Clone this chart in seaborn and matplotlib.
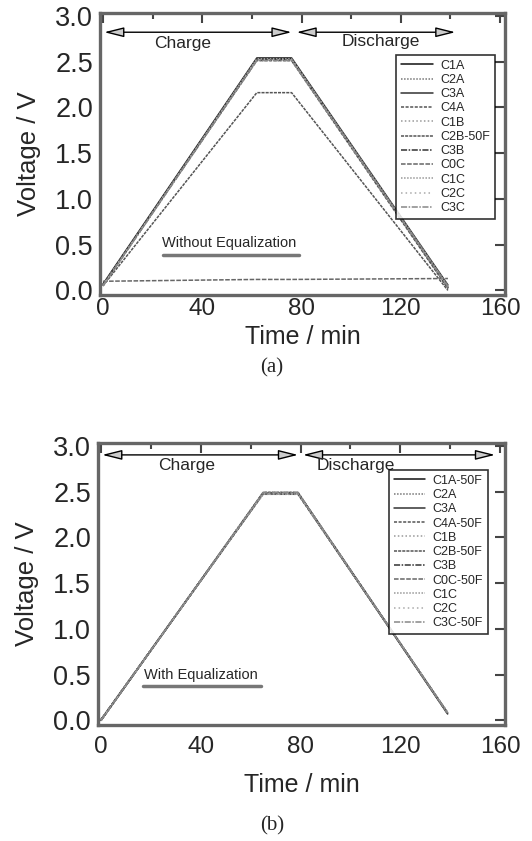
#!/usr/bin/env python3

import pandas as pd
import matplotlib.pyplot as plt
import matplotlib.ticker as mticker
import seaborn as sns

# charge / discharge breakpoints (min)
time_a = [0, 62, 76, 139]
time_b = [0, 65, 79, 139]

# (a) without equalization
cells_a = ["C1A", "C2A", "C3A", "C4A", "C1B", "C2B-50F", "C3B", "C0C", "C1C", "C2C", "C3C"]
volts_a = [
    [0.06, 2.53, 2.53, 0.03],
    [0.05, 2.52, 2.52, 0.04],
    [0.07, 2.54, 2.54, 0.06],
    [0.06, 2.51, 2.51, 0.02],
    [0.05, 2.52, 2.52, 0.05],
    [0.05, 2.16, 2.16, 0.00],
    [0.06, 2.52, 2.52, 0.04],
    [0.10, 0.12, 0.12, 0.13],
    [0.05, 2.53, 2.53, 0.05],
    [0.06, 2.52, 2.52, 0.03],
    [0.05, 2.51, 2.51, 0.04],
]

# (b) with equalization
cells_b = ["C1A-50F", "C2A", "C3A", "C4A-50F", "C1B", "C2B-50F", "C3B", "C0C-50F", "C1C", "C2C", "C3C-50F"]
volts_b = [
    [0.00, 2.48, 2.48, 0.08],
    [0.01, 2.49, 2.49, 0.08],
    [0.00, 2.48, 2.48, 0.07],
    [0.01, 2.47, 2.47, 0.08],
    [0.00, 2.48, 2.48, 0.09],
    [0.00, 2.49, 2.49, 0.08],
    [0.01, 2.48, 2.48, 0.08],
    [0.00, 2.48, 2.48, 0.07],
    [0.01, 2.47, 2.47, 0.08],
    [0.00, 2.48, 2.48, 0.09],
    [0.00, 2.49, 2.49, 0.08],
]

line_colors = ["#111111", "#777777", "#333333", "#555555", "#999999", "#555555",
               "#333333", "#666666", "#999999", "#aaaaaa", "#888888"]
line_dashes = ["", (1, 1), "", (2, 1), (1, 1.5), (2, 0.7), (4, 1, 1, 1),
               (3, 1), (1, 1), (1, 2), (4, 1, 1, 1)]


def to_long(times, cells, volts):
    rows = []
    for cell, vs in zip(cells, volts):
        for t, v in zip(times, vs):
            rows.append({"time": t, "voltage": v, "cell": cell})
    return pd.DataFrame(rows)


def style_axes(ax, xpad, labelpad):
    ax.set_xlim(-1.2, 162)
    ax.set_ylim(-0.05, 3.03)
    ax.xaxis.set_major_locator(mticker.MultipleLocator(40))
    ax.xaxis.set_minor_locator(mticker.MultipleLocator(20))
    ax.yaxis.set_major_locator(mticker.MultipleLocator(0.5))
    ax.yaxis.set_major_formatter(mticker.FormatStrFormatter("%.1f"))
    ax.tick_params(which="both", direction="in", top=True, right=True,
                   color="#444444", width=1.5)
    ax.tick_params(which="major", length=7)
    ax.tick_params(which="minor", length=4)
    ax.tick_params(axis="x", which="major", labelsize=17.5, pad=xpad)
    ax.tick_params(axis="y", which="major", labelsize=19.5, pad=5)
    for sp in ax.spines.values():
        sp.set_color("#666666")
        sp.set_linewidth(2.4)
    ax.set_xlabel("Time / min", fontsize=18, labelpad=labelpad)
    ax.set_ylabel("Voltage / V", fontsize=18.5, labelpad=10)


def draw_panel(ax, df, cells, legend_xy):
    sns.lineplot(data=df, x="time", y="voltage", hue="cell", style="cell",
                 hue_order=cells, style_order=cells,
                 palette=line_colors, dashes=line_dashes,
                 estimator=None, sort=False, linewidth=1.1, ax=ax)
    old = ax.get_legend()
    handles = old.legend_handles
    labels = [t.get_text() for t in old.texts]
    old.remove()
    leg = ax.legend(handles, labels, loc="upper right", bbox_to_anchor=legend_xy,
                    fontsize=9, frameon=True, fancybox=False, edgecolor="black",
                    handlelength=2.5, handletextpad=0.6, labelspacing=0.18,
                    borderpad=0.4, borderaxespad=0)
    leg.get_frame().set_linewidth(1.2)


def arrow(ax, x0, x1, y):
    ax.annotate("", xy=(x1, y), xytext=(x0, y),
                arrowprops=dict(arrowstyle="<|-|>,head_length=1.2,head_width=0.3",
                                fc="#cccccc", ec="black", lw=1.0,
                                shrinkA=0, shrinkB=0))


def main():
    sns.set_style("white")
    plt.rcParams["font.family"] = ["Liberation Sans", "DejaVu Sans"]

    fig = plt.figure(figsize=(5.32, 8.41), dpi=100)
    ax_a = fig.add_axes([100 / 532, 1 - 295 / 841, 405 / 532, 282 / 841])
    ax_b = fig.add_axes([98 / 532, 1 - 725 / 841, 407 / 532, 282 / 841])

    draw_panel(ax_a, to_long(time_a, cells_a, volts_a), cells_a, (0.975, 0.852))
    draw_panel(ax_b, to_long(time_b, cells_b, volts_b), cells_b, (0.958, 0.905))
    style_axes(ax_a, xpad=2, labelpad=4)
    style_axes(ax_b, xpad=8, labelpad=11)

    # panel (a) annotations
    arrow(ax_a, 0.5, 76, 2.82)
    arrow(ax_a, 78, 142, 2.82)
    ax_a.text(32, 2.70, "Charge", ha="center", va="center", fontsize=12.5)
    ax_a.text(112, 2.72, "Discharge", ha="center", va="center", fontsize=12.5)
    ax_a.text(51, 0.52, "Without Equalization", ha="center", va="center", fontsize=10.5)
    ax_a.plot([24, 79], [0.39, 0.39], color="#777777", lw=2.5)

    # panel (b) annotations
    arrow(ax_b, 0.5, 79, 2.90)
    arrow(ax_b, 81, 158, 2.90)
    ax_b.text(34.5, 2.78, "Charge", ha="center", va="center", fontsize=12.5)
    ax_b.text(102, 2.78, "Discharge", ha="center", va="center", fontsize=12.5)
    ax_b.text(40, 0.50, "With Equalization", ha="center", va="center", fontsize=10.5)
    ax_b.plot([17, 64], [0.38, 0.38], color="#777777", lw=2.5)

    fig.text(272 / 532, 1 - 368 / 841, "(a)", ha="center", va="center",
             fontsize=15, family="Liberation Serif")
    fig.text(272 / 532, 1 - 826 / 841, "(b)", ha="center", va="center",
             fontsize=15, family="Liberation Serif")

    fig.savefig("out.png", dpi=100)
    plt.close(fig)


if __name__ == "__main__":
    main()
